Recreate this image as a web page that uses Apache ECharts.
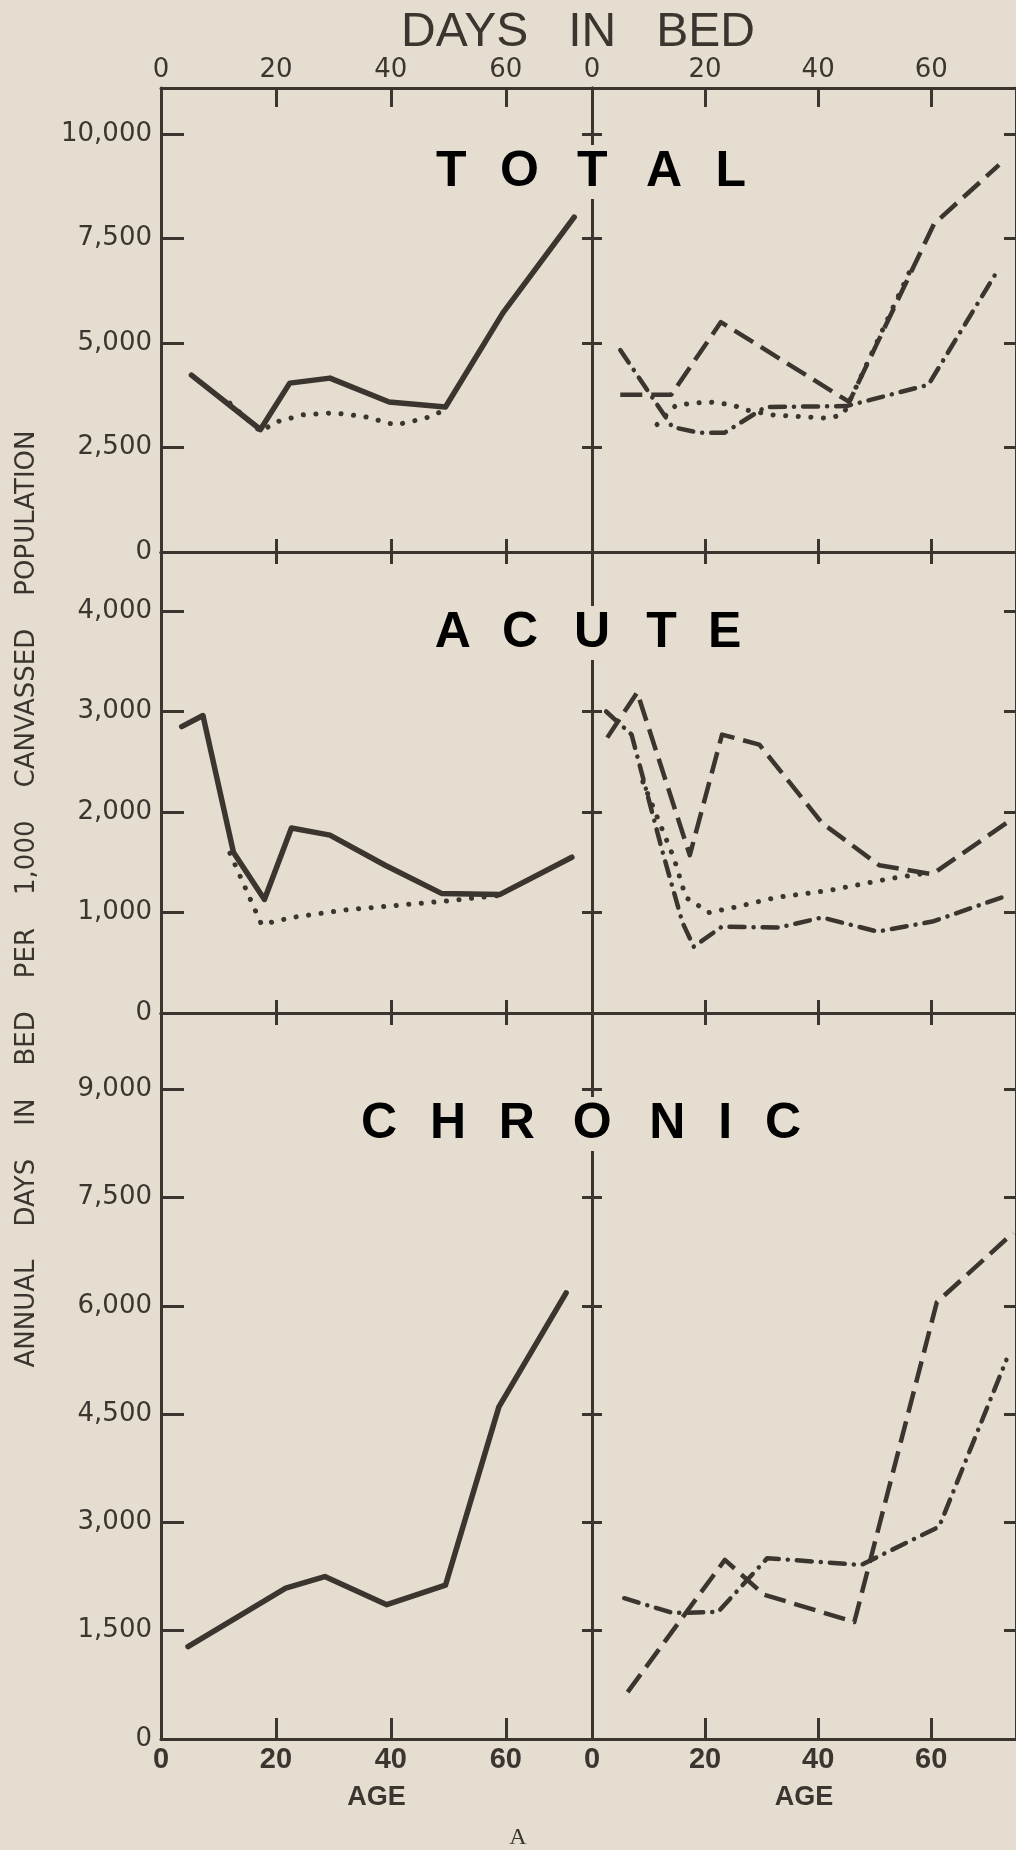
<!DOCTYPE html>
<html><head><meta charset="utf-8">
<style>html,body{margin:0;padding:0;background:#e5ddcf;}#c{width:1016px;height:1850px;}</style>
<script src="https://cdn.jsdelivr.net/npm/echarts@6/dist/echarts.min.js"></script>
</head><body><div id="c"></div>
<script>
// ---- tick labels ----
const ageTicks = [0, 20, 40, 60];
const totalTicks = [0, 2500, 5000, 7500, 10000];
const acuteTicks = [0, 1000, 2000, 3000, 4000];
const chronicTicks = [0, 1500, 3000, 4500, 6000, 7500, 9000];

// ---- data: [age, annual days in bed per 1,000] ----
const totalSolid   = [[5.3,4230],[17.3,2930],[22.4,4040],[29.4,4160],[39.7,3590],[49.5,3470],[59.5,5720],[71.9,8010]];
const totalDotted  = [[12,3560],[17.3,2880],[20,3110],[24.7,3280],[30,3330],[35.4,3240],[40.8,3040],[46,3200],[49.5,3400]];
const totalDashed  = [[5,3760],[14,3760],[22.8,5500],[45.5,3590],[60.5,7850],[72,9260]];
const totalDashDot = [[5,4830],[14.2,2990],[19,2850],[23.4,2850],[30.7,3470],[45,3490],[59.5,4000],[72,6790]];
const totalDottedR = [[11.5,3050],[14.9,3520],[20.7,3590],[24.8,3520],[27.2,3400],[31.9,3280],[42,3200],[44.5,3300],[56.5,6800]];

const acuteSolid   = [[3.6,2850],[7.3,2960],[12.6,1600],[18,1130],[22.7,1840],[29.4,1770],[39,1470],[48.8,1190],[59,1180],[71.5,1550]];
const acuteDotted  = [[12,1590],[17.5,880],[22.7,950],[32,1025],[41.8,1075],[48.8,1110],[59,1170]];
const acuteDashed  = [[2.7,2740],[8,3190],[17.3,1570],[23,2770],[29.6,2670],[40.7,1890],[50.8,1470],[60.2,1380],[73.3,1890]];
const acuteDashDot = [[2.5,3000],[7,2770],[12.4,1620],[16,900],[18,660],[23,860],[33,850],[40.7,950],[50.5,810],[60.2,910],[72.5,1150]];
const acuteDottedR = [[9,2300],[14.5,1540],[16.6,1150],[20.7,1000],[25.5,1055],[32.6,1150],[42,1220],[53,1340],[59,1390]];

const chronicSolid   = [[4.7,1280],[21.7,2090],[28.5,2250],[39.3,1860],[49.5,2130],[58.8,4600],[70.5,6180]];
const chronicDashed  = [[6.3,650],[23.5,2480],[30.4,2000],[46.4,1620],[61,6050],[74.5,7010]];
const chronicDashDot = [[5.7,1950],[14.3,1745],[22.3,1760],[31,2505],[47.6,2410],[61.4,2940],[73.3,5250]];

// ---- texts ----
const topTitle = 'DAYS   IN   BED';
const xName = 'AGE';
const yTitle = 'ANNUAL    DAYS    IN    BED    PER    1,000    CANVASSED    POPULATION';
const figLabel = 'A';

// ---- styling / layout ----
const INK = '#3b3530', PAPER = '#e5ddcf';
const rowLayout = [
  {top: 88,   height: 464, yMax: 11100},
  {top: 552,  height: 461, yMax: 4587},
  {top: 1013, height: 726, yMax: 10055}
];
const rowTicks = [totalTicks, acuteTicks, chronicTicks];
const colLayout = [{left: 161, width: 431}, {left: 592, width: 425}];

const styles = {
  solid:   {color: INK, width: 5.5, type: 'solid', cap: 'round', join: 'round'},
  dashed:  {color: INK, width: 4.5, type: [22, 9], cap: 'butt', join: 'round'},
  dashdot: {color: INK, width: 4.5, type: [15, 9, 0.1, 9], cap: 'round', join: 'round'},
  dotted:  {color: INK, width: 5, type: [0.1, 12.5], cap: 'round', join: 'round'}
};
const seriesDefs = [
  {row: 0, col: 0, data: totalSolid, s: 'solid'},
  {row: 0, col: 0, data: totalDotted, s: 'dotted'},
  {row: 0, col: 1, data: totalDashed, s: 'dashed'},
  {row: 0, col: 1, data: totalDashDot, s: 'dashdot'},
  {row: 0, col: 1, data: totalDottedR, s: 'dotted'},
  {row: 1, col: 0, data: acuteSolid, s: 'solid'},
  {row: 1, col: 0, data: acuteDotted, s: 'dotted'},
  {row: 1, col: 1, data: acuteDashed, s: 'dashed'},
  {row: 1, col: 1, data: acuteDashDot, s: 'dashdot'},
  {row: 1, col: 1, data: acuteDottedR, s: 'dotted'},
  {row: 2, col: 0, data: chronicSolid, s: 'solid'},
  {row: 2, col: 1, data: chronicDashed, s: 'dashed'},
  {row: 2, col: 1, data: chronicDashDot, s: 'dashdot'}
];

const fmt = v => String(v).replace(/\B(?=(\d{3})+(?!\d))/g, ',');
const lineAxis = {show: true, onZero: false, lineStyle: {color: INK, width: 3}};
const tickStyle = {color: INK, width: 3};

const grids = [], xAxes = [], yAxes = [], series = [];
rowLayout.forEach((R, r) => {
  colLayout.forEach((C, c) => {
    const gi = grids.length;
    grids.push({left: C.left, top: R.top, width: C.width, height: R.height});
    const yt = rowTicks[r];
    // bottom x axis
    xAxes.push({type: 'value', gridIndex: gi, position: 'bottom', min: 0, max: 75, interval: 20,
      axisLine: lineAxis, splitLine: {show: false},
      axisTick: {show: true, inside: true, length: r === 2 ? 21 : 13, lineStyle: tickStyle, customValues: ageTicks.filter(v => v > 0)},
      axisLabel: {show: r === 2, customValues: ageTicks, margin: 6, fontSize: 29, fontWeight: 'bold', fontFamily: 'Liberation Sans', color: INK},
      name: r === 2 ? xName : '', nameLocation: 'middle', nameGap: 45,
      nameTextStyle: {color: INK, fontSize: 27, fontWeight: 'bold', fontFamily: 'Liberation Sans'}});
    // top x axis
    xAxes.push({type: 'value', gridIndex: gi, position: 'top', min: 0, max: 75, interval: 20,
      axisLine: lineAxis, splitLine: {show: false},
      axisTick: {show: true, inside: true, length: r === 0 ? 19 : 12, lineStyle: tickStyle, customValues: ageTicks.filter(v => v > 0)},
      axisLabel: {show: r === 0, customValues: ageTicks, margin: 5, fontSize: 26, fontFamily: 'DejaVu Sans', color: INK}});
    // left y axis
    yAxes.push({type: 'value', gridIndex: gi, position: 'left', min: 0, max: R.yMax, interval: yt[1],
      axisLine: lineAxis, splitLine: {show: false},
      axisTick: {show: true, inside: true, length: c === 0 ? 23 : 10, lineStyle: tickStyle, customValues: yt.filter(v => v > 0)},
      axisLabel: {show: c === 0, customValues: yt, margin: 9, fontSize: 26, fontFamily: 'DejaVu Sans', color: INK, formatter: fmt}});
    // right y axis
    yAxes.push({type: 'value', gridIndex: gi, position: 'right', min: 0, max: R.yMax, interval: yt[1],
      axisLine: lineAxis, splitLine: {show: false},
      axisTick: {show: true, inside: true, length: c === 0 ? 10 : 12, lineStyle: tickStyle, customValues: yt.filter(v => v > 0)},
      axisLabel: {show: false}});
  });
});
seriesDefs.forEach(d => {
  const gi = d.row * 2 + d.col;
  series.push({type: 'line', xAxisIndex: gi * 2, yAxisIndex: gi * 2, data: d.data,
    showSymbol: false, symbol: 'none', lineStyle: styles[d.s], z: 5, silent: true});
});

const L = {fontSize: 50, fontWeight: 'bold', fontFamily: 'Liberation Sans', color: INK, verticalAlign: 'middle'};
const M = Object.assign({}, L, {backgroundColor: PAPER, padding: [2, 5, 2, 5]});
function titleText(letters, midIdx) {
  return letters.map((ch, i) => (i === midIdx ? '{m|' : '{l|') + ch + '}').join('{g|  }');
}
function titleEl(letters, midIdx, x, y, gap) {
  return {type: 'text', x: x, y: y, z: 100, style: {
    text: titleText(letters, midIdx), align: 'center', verticalAlign: 'middle',
    rich: {l: L, m: M, g: {fontSize: gap, fontFamily: 'Liberation Sans', verticalAlign: 'middle'}}}};
}

const graphics = [
  {type: 'text', x: 578, y: 33, z: 100, style: {text: topTitle, fill: INK, font: 'normal 48px "Liberation Sans"', align: 'center', verticalAlign: 'middle'}},
  titleEl(['T','O','T','A','L'], 2, 591, 172, 60),
  titleEl(['A','C','U','T','E'], 2, 588, 633, 56),
  titleEl(['C','H','R','O','N','I','C'], 3, 581, 1124, 59),
  {type: 'text', x: 27, y: 899, rotation: Math.PI / 2, z: 100, style: {text: yTitle, fill: INK, font: 'normal 26px "DejaVu Sans"', align: 'center', verticalAlign: 'middle'}},
  {type: 'text', x: 518, y: 1838, z: 100, style: {text: figLabel, fill: INK, font: 'normal 24px "Liberation Serif"', align: 'center', verticalAlign: 'middle'}}
];

const chart = echarts.init(document.getElementById('c'), null, {renderer: 'canvas'});
chart.setOption({
  backgroundColor: PAPER,
  animation: false,
  grid: grids, xAxis: xAxes, yAxis: yAxes, series: series,
  graphic: graphics
});
</script></body></html>
